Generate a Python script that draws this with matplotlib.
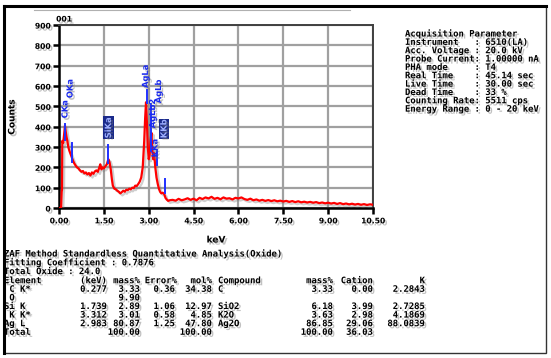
import matplotlib
matplotlib.use("Agg")
import matplotlib.pyplot as plt
from matplotlib import patheffects as pe
from matplotlib.patches import Rectangle
from matplotlib.lines import Line2D

# ---------------- data ----------------
energy = [0.00, 0.07, 0.09, 0.10, 0.11, 0.14, 0.17, 0.20, 0.22, 0.25, 0.28, 0.31, 0.35, 0.40,
          0.45, 0.50, 0.55, 0.60, 0.65, 0.70, 0.75, 0.80, 0.85, 0.90, 0.95, 1.00, 1.05, 1.10,
          1.15, 1.20, 1.25, 1.30, 1.35, 1.38, 1.42, 1.46, 1.50, 1.55, 1.60, 1.65, 1.69, 1.73,
          1.77, 1.80, 1.85, 1.90, 1.95, 2.00, 2.05, 2.10, 2.15, 2.20, 2.25, 2.30, 2.35, 2.40,
          2.45, 2.50, 2.55, 2.60, 2.65, 2.70, 2.75, 2.80, 2.85, 2.88, 2.91, 2.94, 2.97, 3.00,
          3.03, 3.06, 3.09, 3.12, 3.15, 3.18, 3.22, 3.26, 3.30, 3.34, 3.38, 3.42, 3.47, 3.52,
          3.56, 3.60, 3.65, 3.70, 3.80, 3.90, 4.00, 4.10, 4.20, 4.30, 4.40, 4.50, 4.60, 4.70,
          4.80, 4.90, 5.00, 5.10, 5.20, 5.30, 5.40, 5.50, 5.60, 5.70, 5.80, 5.90, 6.00, 6.10,
          6.20, 6.30, 6.40, 6.50, 6.60, 6.70, 6.80, 6.90, 7.00, 7.10, 7.20, 7.30, 7.40, 7.50,
          7.60, 7.70, 7.80, 7.90, 8.00, 8.10, 8.20, 8.30, 8.40, 8.50, 8.60, 8.70, 8.80, 8.90,
          9.00, 9.10, 9.20, 9.30, 9.40, 9.50, 9.60, 9.70, 9.80, 9.90, 10.00, 10.10, 10.20,
          10.30, 10.40, 10.50]
counts = [0, 0, 80, 90, 330, 320, 360, 405, 380, 350, 330, 300, 280, 260,
          240, 222, 210, 200, 195, 185, 178, 182, 170, 175, 165, 172, 160, 175,
          168, 180, 185, 178, 200, 215, 190, 200, 195, 205, 215, 240, 225, 190,
          140, 110, 95, 92, 85, 80, 72, 78, 85, 80, 90, 88, 95, 92,
          100, 98, 110, 108, 118, 130, 150, 200, 330, 440, 520, 420, 300, 240,
          260, 330, 370, 290, 240, 270, 200, 150, 120, 95, 80, 72, 75, 68,
          50, 42, 35, 38, 40, 36, 45, 38, 42, 48, 40, 46, 38, 50,
          44, 52, 47, 55, 45, 50, 43, 52, 46, 48, 42, 50, 47, 52,
          44, 40, 46, 38, 42, 36, 40, 35, 39, 34, 38, 33, 36, 32,
          35, 30, 34, 29, 33, 28, 31, 27, 30, 26, 29, 24, 27, 23,
          26, 22, 25, 20, 24, 19, 22, 18, 21, 17, 20, 16, 19,
          15, 18, 16]

peak_labels = ["CKa", "OKa", "SiKa", "AgLa", "AgLb", "AgLb2", "KKa", "KKb"]
peak_line_energy = [0.20, 0.45, 1.65, 2.93, 3.08, None, 3.29, 3.54]
peak_line_low = [335, 225, 219, 515, 280, None, 210, 76]
peak_line_high = [415, 320, 308, 580, 510, None, 283, 145]
peak_text_energy = [0.20, 0.37, 1.65, 2.89, 3.33, 3.13, 3.21, 3.51]
peak_text_count = [441, 540, 343, 590, 515, 392, 249, 343]
peak_boxed = [False, False, True, False, False, False, False, True]

x_ticks = [0.0, 1.5, 3.0, 4.5, 6.0, 7.5, 9.0, 10.5]
x_tick_labels = ["0.00", "1.50", "3.00", "4.50", "6.00", "7.50", "9.00", "10.50"]
y_ticks = [0, 100, 200, 300, 400, 500, 600, 700, 800, 900]

info_lines = ["Acquisition Parameter",
              "Instrument   : 6510(LA)",
              "Acc. Voltage : 20.0 kV",
              "Probe Current: 1.00000 nA",
              "PHA mode     : T4",
              "Real Time    : 45.14 sec",
              "Live Time    : 30.00 sec",
              "Dead Time    : 33 %",
              "Counting Rate: 5511 cps",
              "Energy Range : 0 - 20 keV"]

header_lines = ["ZAF Method Standardless Quantitative Analysis(Oxide)",
                "Fitting Coefficient : 0.7876",
                "Total Oxide : 24.0"]

table_header = ["Element", "(keV)", "mass%", "Error%", "mol%", "Compound", "mass%", "Cation", "K"]
el_names = [" C K*", " O", "Si K", " K K*", "Ag L", "Total"]
el_kev = ["0.277", "", "1.739", "3.312", "2.983", ""]
el_mass = ["3.33", "9.90", "2.89", "3.01", "80.87", "100.00"]
el_err = ["0.36", "", "1.06", "0.58", "1.25", ""]
el_mol = ["34.38", "", "12.97", "4.85", "47.80", "100.00"]
el_comp = ["C", "", "SiO2", "K2O", "Ag2O", ""]
comp_mass = ["3.33", "", "6.18", "3.63", "86.85", "100.00"]
cation = ["0.00", "", "3.99", "2.98", "29.06", "36.03"]
k_val = ["2.2843", "", "2.7285", "4.1869", "88.0839", ""]

# ---------------- figure ----------------
W, H = 551, 358
fig = plt.figure(figsize=(5.51, 3.58), dpi=100)
fig.patch.set_facecolor("white")


def fx(x):
    return x / W


def fy(y):
    return 1 - y / H


txt_shadow = [pe.withSimplePatchShadow(offset=(1.5, -1.5), shadow_rgbFace="#777777", alpha=0.45)]
line_shadow = [pe.SimpleLineShadow(offset=(1.5, -1.5), shadow_color="#777777", alpha=0.35), pe.Normal()]

ax = fig.add_axes([fx(59), fy(208), (373 - 59) / W, (208 - 25) / H])
ax.set_xlim(0, 10.5)
ax.set_ylim(0, 900)
ax.set_xticks(x_ticks)
ax.set_xticklabels(x_tick_labels)
ax.set_yticks(y_ticks)
ax.grid(True, color="#a0a0a0", lw=1.6)
ax.set_axisbelow(True)
for s in ax.spines.values():
    s.set_color("#404040")
    s.set_linewidth(1.4)
ax.spines["left"].set_color("black")
ax.spines["bottom"].set_color("black")
ax.spines["left"].set_linewidth(1.8)
ax.spines["bottom"].set_linewidth(1.8)
ax.tick_params(axis="both", direction="out", length=4, width=1.8, pad=2)
ax.tick_params(axis="x", labelsize=5.5)
ax.tick_params(axis="y", labelsize=5.5)
for lbl in ax.get_xticklabels() + ax.get_yticklabels():
    lbl.set_fontweight("bold")
    lbl.set_path_effects(txt_shadow)

ax.plot(energy, counts, color="#ff0000", lw=1.6, path_effects=line_shadow, zorder=3)

for i, lab in enumerate(peak_labels):
    if peak_line_energy[i] is not None:
        ax.plot([peak_line_energy[i], peak_line_energy[i]],
                [peak_line_low[i], peak_line_high[i]],
                color="#2030ff", lw=1.4, zorder=4)
    kw = dict(rotation=90, ha="center", va="bottom", fontsize=6,
              fontweight="bold", zorder=5, path_effects=txt_shadow)
    if peak_boxed[i]:
        ax.text(peak_text_energy[i], peak_text_count[i], lab, color="#9fb0ff",
                bbox=dict(boxstyle="square,pad=0.1", fc="#1a2a8a", ec="none"), **kw)
    else:
        ax.text(peak_text_energy[i], peak_text_count[i], lab, color="#1a2aee", **kw)

fig.text(fx(12), fy(117), "Counts", rotation=90, ha="center", va="center",
         fontsize=6.5, fontweight="bold", path_effects=txt_shadow)
fig.text(fx(216), fy(240), "keV", ha="center", va="center",
         fontsize=6.5, fontweight="bold", path_effects=txt_shadow)
fig.text(fx(64), fy(19), "001", ha="center", va="center",
         fontsize=5.5, fontweight="bold", path_effects=txt_shadow)

mono = dict(family="DejaVu Sans Mono", fontweight="bold", fontsize=6.4, path_effects=txt_shadow)

# acquisition parameters
for i, line in enumerate(info_lines):
    fig.text(fx(405), fy(34 + i * 8.35), line, ha="left", va="center", **mono)

# quantitative analysis block
for i, line in enumerate(header_lines):
    fig.text(fx(4), fy(254 + i * 8.8), line, ha="left", va="center", **mono)

row_y0 = 280.7
row_dy = 8.6
fig.text(fx(4), fy(row_y0), table_header[0], ha="left", va="center", **mono)
col_right = [107, 140, 177, 212]
for j, h in enumerate(table_header[1:5]):
    fig.text(fx(col_right[j]), fy(row_y0), h, ha="right", va="center", **mono)
fig.text(fx(218), fy(row_y0), table_header[5], ha="left", va="center", **mono)
for j, h in zip([333, 373, 425], table_header[6:]):
    fig.text(fx(j), fy(row_y0), h, ha="right", va="center", **mono)

for r in range(len(el_names)):
    yy = fy(row_y0 + (r + 1) * row_dy)
    fig.text(fx(4), yy, el_names[r], ha="left", va="center", **mono)
    for xr, col in zip([107, 140, 175, 212], [el_kev, el_mass, el_err, el_mol]):
        if col[r]:
            fig.text(fx(xr), yy, col[r], ha="right", va="center", **mono)
    if el_comp[r]:
        fig.text(fx(218), yy, el_comp[r], ha="left", va="center", **mono)
    for xr, col in zip([333, 373, 425], [comp_mass, cation, k_val]):
        if col[r]:
            fig.text(fx(xr), yy, col[r], ha="right", va="center", **mono)

# outer frame
fig.add_artist(Rectangle((fx(4), fy(353)), (546 - 4) / W, (353 - 6) / H,
                         transform=fig.transFigure, fill=False, lw=1.0, ec="#333333"))
fig.add_artist(Line2D([fx(4), fx(4)], [fy(6), fy(353)], transform=fig.transFigure,
                      color="black", lw=2.2))
fig.add_artist(Line2D([fx(4), fx(546)], [fy(6), fy(6)], transform=fig.transFigure,
                      color="black", lw=2.2))
fig.add_artist(Line2D([fx(34), fx(350)], [fy(10), fy(10)], transform=fig.transFigure,
                      color="#b0b0b0", lw=0.8))

fig.savefig("out.png", dpi=100, facecolor="white")
